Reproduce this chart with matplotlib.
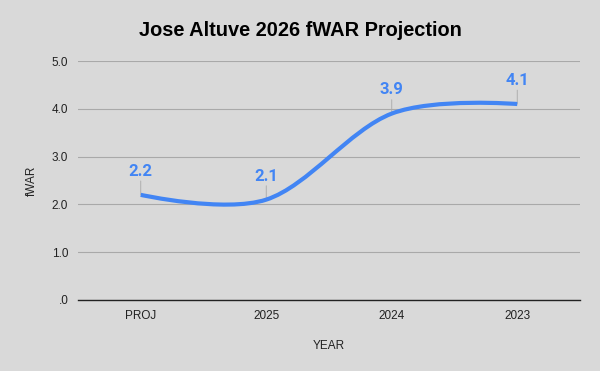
import matplotlib.pyplot as plt
from matplotlib.path import Path
from matplotlib.patches import PathPatch
from matplotlib.ticker import FuncFormatter

years = ["PROJ", "2025", "2024", "2023"]
fwar = [2.2, 2.1, 3.9, 4.1]
yticks = [0, 1, 2, 3, 4, 5]

bg = "#d9d9d9"
blue = "#4285f4"

plt.rcParams['font.family'] = ['Liberation Sans', 'DejaVu Sans']

fig = plt.figure(figsize=(6, 3.71), dpi=100, facecolor=bg)
ax = fig.add_axes([78 / 600, 71 / 371, 502 / 600, 239 / 371])
ax.set_facecolor(bg)

xs = list(range(len(fwar)))

# smooth line like the sheets chart (cubic bezier, catmull-rom style tangents)
def tangent(i):
    if i == 0 or i == len(fwar) - 1:
        return 0.0, 0.0
    return 1.0, (fwar[i + 1] - fwar[i - 1]) / 2

verts = [(xs[0], fwar[0])]
codes = [Path.MOVETO]
for i in range(len(fwar) - 1):
    tx0, ty0 = tangent(i)
    tx1, ty1 = tangent(i + 1)
    verts += [(xs[i] + tx0 / 3, fwar[i] + ty0 / 3),
              (xs[i + 1] - tx1 / 3, fwar[i + 1] - ty1 / 3),
              (xs[i + 1], fwar[i + 1])]
    codes += [Path.CURVE4] * 3
ax.add_patch(PathPatch(Path(verts, codes), facecolor="none", edgecolor=blue,
                       lw=3, capstyle="butt", zorder=3))

for x, v in zip(xs, fwar):
    ax.annotate("", xy=(x, v), xytext=(0, 10), textcoords="offset points",
                xycoords="data",
                arrowprops=dict(arrowstyle="-", color="#a8a8a8", lw=0.6,
                                shrinkA=0, shrinkB=0), zorder=2)
    ax.annotate(f"{v:.1f}", xy=(x, v), xytext=(0, 17), textcoords="offset points",
                ha="center", va="center", color=blue, fontsize=12,
                fontweight="bold", family=["Roboto", "DejaVu Sans"])

ax.set_xlim(-0.5, len(fwar) - 0.5)
ax.set_ylim(0, 5)
ax.set_xticks(xs)
ax.set_xticklabels(years)
ax.set_yticks(yticks)
ax.yaxis.set_major_formatter(FuncFormatter(lambda v, p: ".0" if abs(v) < 1e-9 else f"{v:.1f}"))
ax.tick_params(length=0, labelsize=8.5, colors="#222222")
ax.tick_params(axis="y", pad=7)
ax.tick_params(axis="x", pad=7)

ax.grid(axis="y", color="#a9a9a9", lw=0.8)
ax.set_axisbelow(True)
for s in ["top", "right", "left"]:
    ax.spines[s].set_visible(False)
ax.spines["bottom"].set_color("#222222")
ax.spines["bottom"].set_linewidth(1)

ax.set_ylabel("fWAR", fontsize=8.5, color="#222222", labelpad=10)
ax.set_xlabel("YEAR", fontsize=8.5, color="#222222", labelpad=13)

fig.text(0.5, 1 - 31 / 371, "Jose Altuve 2026 fWAR Projection", ha="center",
         va="center", fontsize=14.4, fontweight="bold", color="#000000")

fig.savefig("out.png", dpi=100, facecolor=bg)
